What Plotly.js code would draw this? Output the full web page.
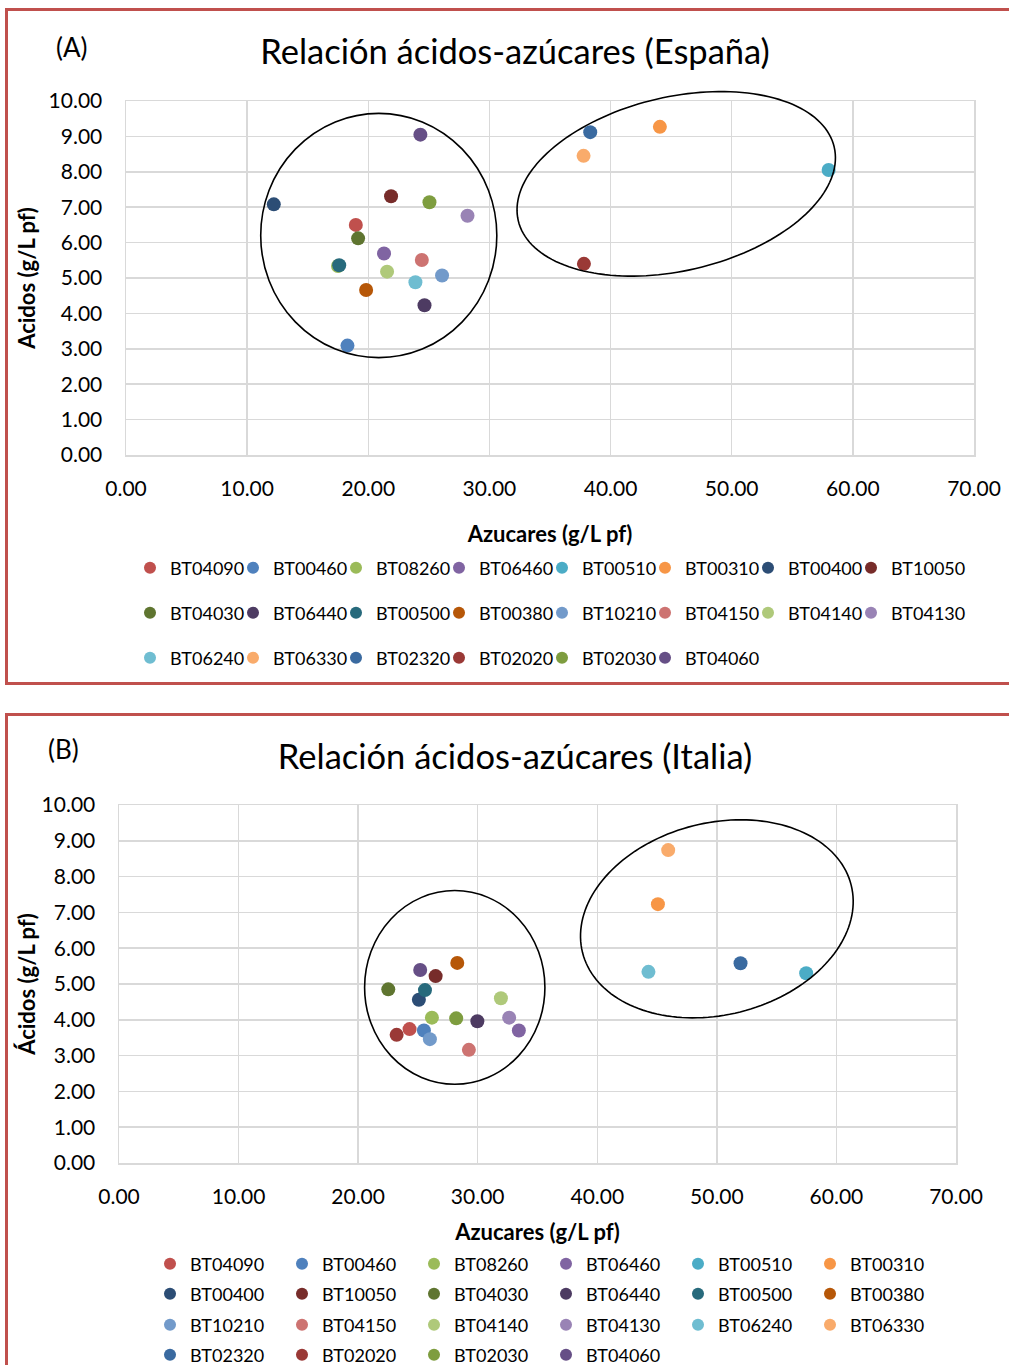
<!DOCTYPE html>
<html><head><meta charset="utf-8">
<script src="https://cdn.plot.ly/plotly-3.0.1.min.js"></script>
<style>
html,body{margin:0;padding:0;background:#fff;overflow:hidden;width:1009px;height:1365px;}
.box{position:absolute;left:5px;border:3px solid #C0504D;background:#fff;}
#boxA{top:8px;width:1010px;height:671px;}
#boxB{top:713px;width:1010px;height:660px;}
</style></head><body>
<div id="boxA" class="box"><div id="chartA"></div></div>
<div id="boxB" class="box"><div id="chartB"></div></div>
<script>
// ---- data ----
const series = ["BT04090","BT00460","BT08260","BT06460","BT00510","BT00310","BT00400","BT10050",
  "BT04030","BT06440","BT00500","BT00380","BT10210","BT04150","BT04140","BT04130",
  "BT06240","BT06330","BT02320","BT02020","BT02030","BT04060"];
const colors = ["#C0504D","#4F81BD","#9BBB59","#8064A2","#4BACC6","#F79646","#2C4D75","#772C2A",
  "#5F7530","#4D3B62","#276A7C","#B65708","#729ACA","#CD7371","#AFC97A","#9983B5",
  "#6FBDD1","#F9AB6B","#3A6AA0","#9A3936","#7E9D3F","#664F86"];
// España (A)
const espAzucares = [18.97,18.28,17.5,21.3,58.0,44.07,12.2,21.88,19.16,24.64,17.6,19.82,26.09,24.42,21.55,28.19,23.89,37.77,38.32,37.8,25.05,24.3];
const espAcidos   = [6.50,3.09,5.34,5.69,8.05,9.27,7.08,7.31,6.12,4.23,5.36,4.66,5.07,5.51,5.18,6.76,4.88,8.45,9.12,5.40,7.14,9.05];
// Italia (B)
const itaAzucares = [24.3,25.5,26.17,33.44,57.47,45.07,25.08,26.48,22.52,29.97,25.59,28.29,26.0,29.26,31.94,32.63,44.28,45.93,51.98,23.22,28.2,25.19];
const itaAcidos   = [3.74,3.70,4.06,3.70,5.30,7.23,4.56,5.22,4.85,3.96,4.83,5.59,3.46,3.16,4.60,4.06,5.34,8.74,5.58,3.58,4.04,5.39];
const xTicks = [0,10,20,30,40,50,60,70];
const yTicks = [0,1,2,3,4,5,6,7,8,9,10];
const X_MAX = 70, Y_MAX = 10;

const FONT = "Lato, 'Open Sans', sans-serif";

// ellipse outline in paper coordinates (not clipped to the plot area)
function ellipsePath(cx, cy, aPx, bPx, angDeg, pxPerX, pxPerY){
  const n=160, t=angDeg*Math.PI/180; let s='';
  for(let i=0;i<=n;i++){
    const u=2*Math.PI*i/n, ex=aPx*Math.cos(u), ey=bPx*Math.sin(u);
    const dx=ex*Math.cos(t)-ey*Math.sin(t), dy=ex*Math.sin(t)+ey*Math.cos(t);
    const xd=cx+dx/pxPerX, yd=cy+dy/pxPerY;
    s+=(i?'L':'M')+(xd/X_MAX).toFixed(5)+','+(yd/Y_MAX).toFixed(5);
  }
  return s+'Z';
}

function buildChart(div, cfg){
  const W=1000, H=cfg.H, m=cfg.margin;
  const pw=W-m.l-m.r, ph=H-m.t-m.b;
  const pxPerX=pw/X_MAX, pxPerY=ph/Y_MAX;
  const traces = series.map((name,i)=>{
    const row = Math.floor(i/cfg.perRow);
    const last = (i % cfg.perRow === cfg.perRow-1) || i === series.length-1;
    const t = {
      type:'scatter', mode:'markers', name:name,
      x:[cfg.xs[i]], y:[cfg.ys[i]],
      marker:{size:14, color:colors[i], line:{width:0}},
      legend: row===0 ? 'legend' : 'legend'+(row+1),
      cliponaxis:false, hoverinfo:'x+y+name'
    };
    if(last) t.legendwidth = 80;
    return t;
  });
  const layout = {
    width:W, height:H, margin:m, paper_bgcolor:'#fff', plot_bgcolor:'#fff',
    font:{family:FONT, color:'#000'},
    showlegend:true,
    title:{text:cfg.title, font:{family:FONT, size:34.5, color:'#000'},
      xref:'container', yref:'container', x:cfg.titleX/W, y:1-cfg.titleY/H, xanchor:'center', yanchor:'middle'},
    xaxis:{range:[0,X_MAX], tickvals:xTicks, tickformat:'.2f', showgrid:true, gridcolor:'#D9D9D9', gridwidth:1.5,
      zeroline:false, showline:true, mirror:true, linecolor:'#D9D9D9', linewidth:1.5,
      tickfont:{family:FONT, size:21, color:'#000'}, ticklabelstandoff:14, automargin:false, fixedrange:true,
      title:{text:'<b>Azucares (g/L pf)</b>', font:{family:FONT, size:22, color:'#000'}, standoff:cfg.xStandoff}},
    yaxis:{range:[0,Y_MAX], tickvals:yTicks, tickformat:'.2f', showgrid:true, gridcolor:'#D9D9D9', gridwidth:1.5,
      zeroline:false, showline:true, mirror:true, linecolor:'#D9D9D9', linewidth:1.5,
      tickfont:{family:FONT, size:21, color:'#000'}, ticklabelstandoff:18, automargin:false, fixedrange:true,
      title:{text:cfg.yTitle, font:{family:FONT, size:22, color:'#000'}, standoff:cfg.yStandoff}},
    annotations:[{text:cfg.label, xref:'paper', yref:'paper', showarrow:false,
      x:(cfg.labelX-m.l)/pw, y:(m.t+ph-cfg.labelY)/ph, xanchor:'center', yanchor:'middle',
      font:{family:FONT, size:26, color:'#000'}}],
    shapes:[
      {type:'circle', xref:'paper', yref:'paper', x0:cfg.circ[0]/X_MAX, x1:cfg.circ[1]/X_MAX, y0:cfg.circ[2]/Y_MAX, y1:cfg.circ[3]/Y_MAX,
        line:{color:'#000', width:1.6}, fillcolor:'rgba(0,0,0,0)'},
      {type:'path', xref:'paper', yref:'paper', path:ellipsePath(cfg.ell[0],cfg.ell[1],cfg.ell[2],cfg.ell[3],cfg.ell[4],pxPerX,pxPerY),
        line:{color:'#000', width:1.6}, fillcolor:'rgba(0,0,0,0)'}
    ]
  };
  cfg.rowY.forEach((ry,k)=>{
    const key = k===0 ? 'legend' : 'legend'+(k+1);
    layout[key] = {orientation:'h', xref:'container', yref:'container', x:cfg.legX/W, y:1-ry/H,
      xanchor:'left', yanchor:'middle', font:{family:FONT, size:18, color:'#000'},
      itemsizing:'constant', entrywidth:cfg.entryW, entrywidthmode:'pixels', bgcolor:'rgba(0,0,0,0)',
      traceorder:'normal', itemclick:false, itemdoubleclick:false};
  });
  Plotly.newPlot(div, traces, layout, {displayModeBar:false, staticPlot:true});
}

buildChart('chartA', {
  H:671, margin:{l:118, r:34, t:90, b:227},
  xs:espAzucares, ys:espAcidos, perRow:8,
  title:'Relación ácidos-azúcares (España)', titleX:507, titleY:41,
  label:'(A)', labelX:64, labelY:36,
  yTitle:'<b>Acidos (g/L pf)</b>', xStandoff:28, yStandoff:7,
  circ:[11.12,30.61,2.75,9.65],
  ell:[45.42,7.66,162.2,86.9,13.1],
  rowY:[557,602,647], legX:122, entryW:58
});
buildChart('chartB', {
  H:649, margin:{l:111, r:52, t:89, b:202},
  xs:itaAzucares, ys:itaAcidos, perRow:6,
  title:'Relación ácidos-azúcares (Italia)', titleX:507, titleY:41,
  label:'(B)', labelX:55, labelY:33,
  yTitle:'<b>Ácidos (g/L pf)</b>', xStandoff:20, yStandoff:0,
  circ:[20.54,35.62,2.20,7.61],
  ell:[50.0,6.82,138.5,96,14.1],
  rowY:[548,578,609,639], legX:142, entryW:87
});
</script>
</body></html>
